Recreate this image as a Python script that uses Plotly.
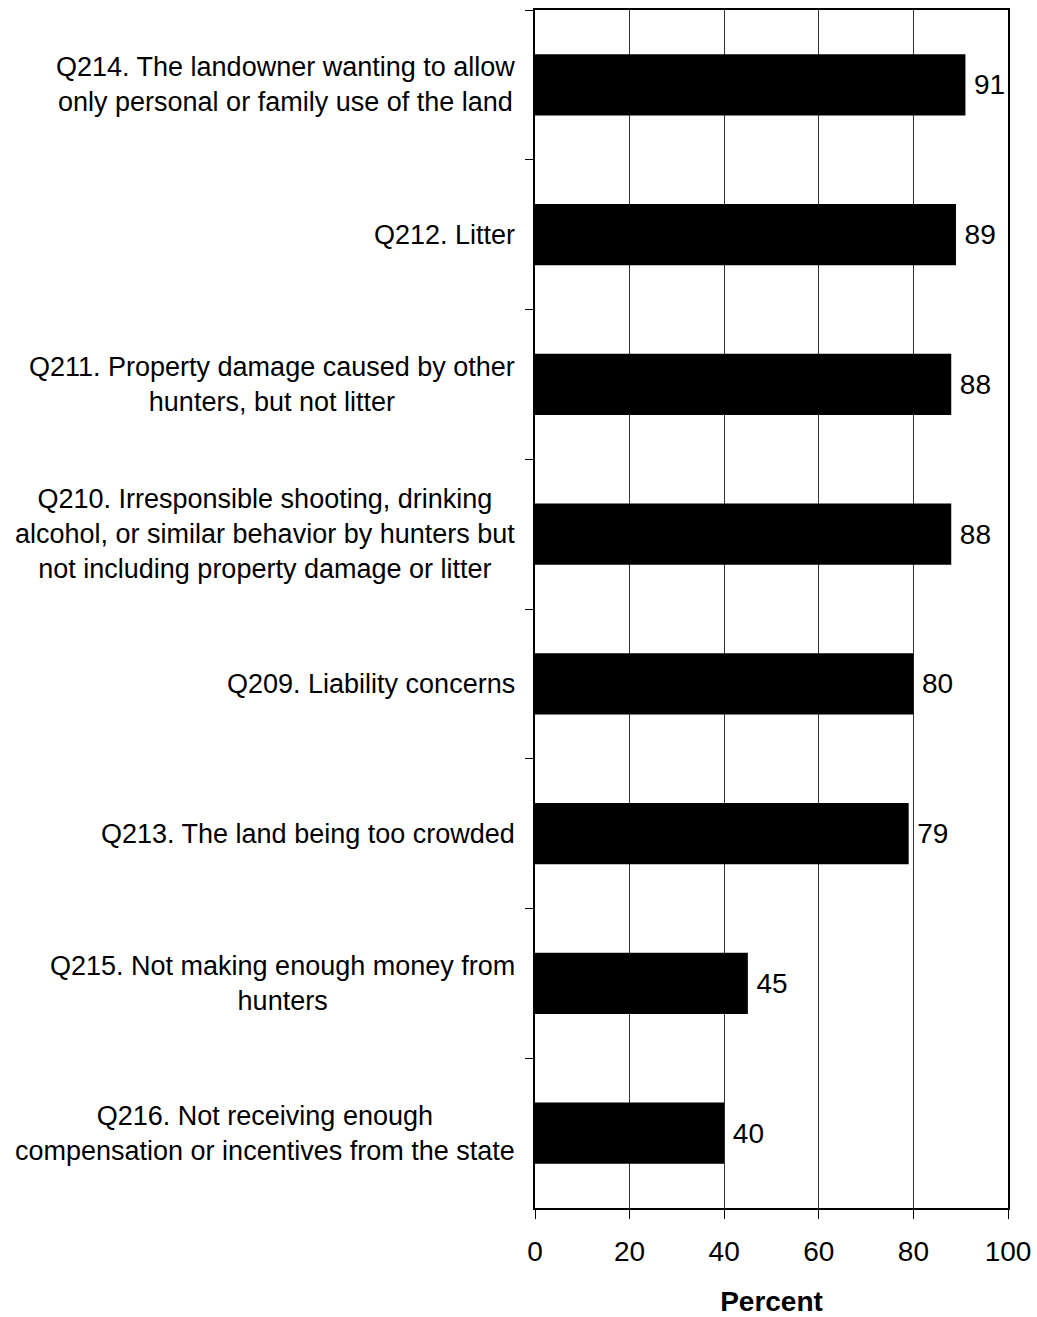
import plotly.graph_objects as go

categories = [
    "Q214. The landowner wanting to allow<br>only personal or family use of the land",
    "Q212. Litter",
    "Q211. Property damage caused by other<br>hunters, but not litter",
    "Q210. Irresponsible shooting, drinking<br>alcohol, or similar behavior by hunters but<br>not including property damage or litter",
    "Q209. Liability concerns",
    "Q213. The land being too crowded",
    "Q215. Not making enough money from<br>hunters",
    "Q216. Not receiving enough<br>compensation or incentives from the state",
]
values = [91, 89, 88, 88, 80, 79, 45, 40]
x_ticks = [0, 20, 40, 60, 80, 100]

FONT = "Arial, Liberation Sans, sans-serif"

fig = go.Figure()
fig.add_trace(go.Bar(
    y=categories, x=values, orientation="h",
    marker=dict(color="black", line=dict(width=0)),
    width=0.41,
    text=values, texttemplate="\u2009%{x}", textposition="outside",
    textfont=dict(size=28, color="black", family=FONT),
    cliponaxis=False,
))

annotations = []
for c in categories:
    annotations.append(dict(
        x=0, xref="paper", y=c, yref="y", xanchor="right", yanchor="middle",
        xshift=-18, text=c, showarrow=False, align="center",
        font=dict(size=27, color="black", family=FONT),
    ))

fig.update_layout(
    width=1037, height=1317,
    margin=dict(l=535, r=29, t=10, b=109),
    paper_bgcolor="white", plot_bgcolor="white",
    showlegend=False,
    font=dict(family=FONT, color="black"),
    annotations=annotations,
    xaxis=dict(
        range=[0, 100], tickvals=x_ticks, ticktext=[str(v) for v in x_ticks],
        showgrid=True, gridcolor="#333333", gridwidth=1,
        showline=True, linecolor="black", linewidth=2, mirror=True,
        ticks="outside", ticklen=9, tickcolor="black", tickwidth=1,
        ticklabelstandoff=8, automargin=False,
        tickfont=dict(size=28, family=FONT), zeroline=False,
        title=dict(text="<b>Percent</b>", font=dict(size=28, family=FONT), standoff=30),
    ),
    yaxis=dict(
        autorange="reversed", showticklabels=False, automargin=False,
        showline=True, linecolor="black", linewidth=2, mirror=True,
        ticks="outside", ticklen=8, tickcolor="black", tickwidth=1,
        tickson="boundaries", showgrid=False, zeroline=False,
    ),
)

fig.write_html("out.html", config={"displayModeBar": False},
               post_script="document.body.style.margin='0';")
